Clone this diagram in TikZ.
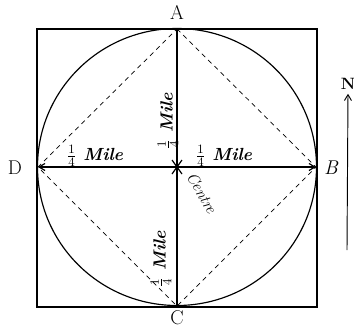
\documentclass[tikz,border=0pt]{standalone}
\usepackage{tikz}
\usetikzlibrary{arrows.meta}
\tikzset{
  point/.style={
    font=\fontsize{17}{19}\selectfont
  },
  dist/.style={
    font=\bfseries\itshape\fontsize{15}{17}\selectfont,
    inner sep=1pt
  },
  frame/.style={
    draw=black,
    line width=1.3pt
  },
  chord/.style={
    draw=black,
    line width=0.6pt,
    dash pattern=on 4pt off 3.5pt
  },
  axis/.style={
    draw=black,
    line width=1pt
  }
}

\begin{document}
\begin{tikzpicture}[x=0.03cm,y=-0.03cm]
  \useasboundingbox (0,0) rectangle (354,327);

  % Points of the compass on the circle
  \coordinate (O) at (177,167);
  \coordinate (A) at (177,29);
  \coordinate (B) at (316,167);
  \coordinate (C) at (177,306);
  \coordinate (D) at (38,167);

  % Square boundary and circle
  \draw[frame] (37,29) rectangle (317,307);
  \draw[line width=1pt] (O) ellipse [x radius=139.5, y radius=138.5];

  % Dashed square inside the circle
  \draw[chord] (A) -- (B) -- (C) -- (D) -- cycle;

  % Diameters
  \draw[axis] (A) -- (C);
  \draw[axis, {Straight Barb[length=5pt,width=6pt]}-{Straight Barb[length=5pt,width=6pt]}] (D) -- (B);
  \draw[line width=1pt] (172,160) -- (182,174) (172,174) -- (182,160);

  % Point labels
  \node[point] (lA) at (177,12) {A};
  \node[point] (lB) at (331,168) {\itshape B};
  \node[point] (lC) at (177,318) {C};
  \node[point] (lD) at (15,168) {D};

  % Distances
  \node[dist] (dD) at (95,156) {$\frac{1}{4}$ Mile};
  \node[dist] (dB) at (224,156) {$\frac{1}{4}$ Mile};
  \node[dist, rotate=90] (dA) at (168,121) {$\frac{1}{4}$ Mile};
  \node[dist, rotate=90] (dC) at (161,259) {$\frac{1}{4}$ Mile};
  \node[dist, font=\itshape\fontsize{13.5}{15}\selectfont, rotate=-60] (ctr) at (202,193) {Centre};

  % North arrow
  \node[font=\bfseries\fontsize{14}{16}\selectfont] (N) at (348,84) {N};
  \coordinate (tail) at (347,250);
  \draw[line width=0.8pt, -{Straight Barb[length=5pt,width=6pt]}] (tail) -- (N.south);
\end{tikzpicture}
\end{document}
